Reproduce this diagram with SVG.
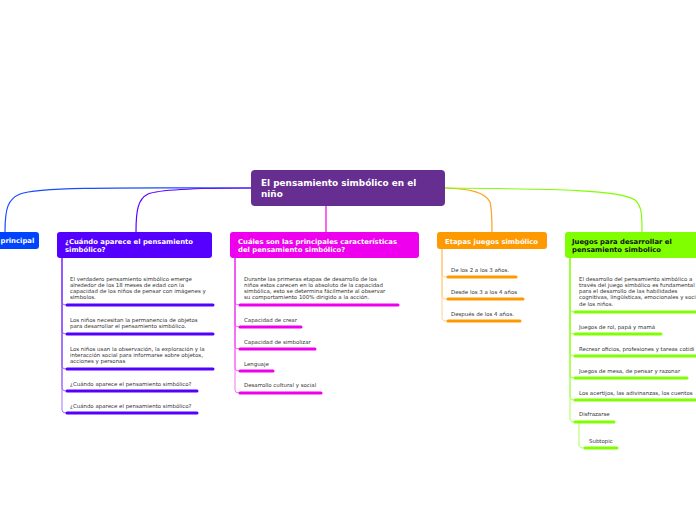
<svg xmlns="http://www.w3.org/2000/svg" width="696" height="520" viewBox="0 0 696 520">
<style>
.nt{font-family:"DejaVu Sans",Verdana,sans-serif;font-weight:bold;font-size:6.85px;fill:#fff}
.ct{font-family:"DejaVu Sans",Verdana,sans-serif;font-weight:bold;font-size:8.9px;fill:#fff}
.st{font-family:"DejaVu Sans",Verdana,sans-serif;font-size:5.45px;fill:#333}
.c{fill:none;stroke-width:1.2}
.u{stroke-width:3;stroke-linecap:round}
.sc{fill:none;stroke-width:0.8}
</style>
<rect width="696" height="520" fill="#fff"/>
<g id="connectors">
<path class="c" stroke="#1a4cff" d="M251 188 C150 188 40 186 20 194 C8 199 5 208 5 232"/>
<path class="c" stroke="#5a00ff" d="M251 188 C200 188 160 189 148 194 C138 199 136 210 136 232"/>
<path class="c" stroke="#ee00ee" d="M326 206 L326 232"/>
<path class="c" stroke="#ffa020" d="M445 188 C470 189 485 192 490 202 C492 210 492 220 492 232"/>
<path class="c" stroke="#80ff00" d="M445 188 C560 189 620 190 635 200 C642 206 642 216 642 232"/>
<g stroke="#5a00ff" opacity="0.7">
<path class="sc" d="M62 258 V302 Q62 305 66 305"/>
<path class="sc" d="M62 258 V331 Q62 334 66 334"/>
<path class="sc" d="M62 258 V366 Q62 369 66 369"/>
<path class="sc" d="M62 258 V388 Q62 391 66 391"/>
<path class="sc" d="M62 258 V410 Q62 413 66 413"/>
</g>
<g stroke="#ee00ee" opacity="0.7">
<path class="sc" d="M235 258 V302 Q235 305 239 305"/>
<path class="sc" d="M235 258 V324 Q235 327 239 327"/>
<path class="sc" d="M235 258 V346 Q235 349 239 349"/>
<path class="sc" d="M235 258 V368 Q235 371 239 371"/>
<path class="sc" d="M235 258 V390 Q235 393 239 393"/>
</g>
<g stroke="#ffb040" opacity="0.7">
<path class="sc" d="M442 249 V274 Q442 277 447 277"/>
<path class="sc" d="M442 249 V296 Q442 299 447 299"/>
<path class="sc" d="M442 249 V318 Q442 321 447 321"/>
</g>
<g stroke="#80ff00" opacity="0.8">
<path class="sc" d="M570 258 V309 Q570 312 574 312"/>
<path class="sc" d="M570 258 V331 Q570 334 574 334"/>
<path class="sc" d="M570 258 V353 Q570 356 574 356"/>
<path class="sc" d="M570 258 V375 Q570 378 574 378"/>
<path class="sc" d="M570 258 V397 Q570 400 574 400"/>
<path class="sc" d="M570 258 V419 Q570 422 574 422"/>
<path class="sc" d="M579 422 V445 Q579 448 584 448"/>
</g>
</g>
<g id="central">
<rect x="251" y="170" width="194" height="36" rx="4" fill="#662e91"/>
<text class="ct" x="261" y="186">El pensamiento simbólico en el</text>
<text class="ct" x="261" y="197">niño</text>
</g>
<g id="n1">
<rect x="-6" y="232" width="45" height="17" rx="3" fill="#0044ff"/>
<text class="nt" x="0.5" y="243">principal</text>
</g>
<g id="n2">
<rect x="57" y="232" width="155" height="26" rx="3" fill="#5500ff"/>
<text class="nt" x="65" y="244">¿Cuándo aparece el pensamiento</text>
<text class="nt" x="65" y="252">simbólico?</text>
</g>
<g id="n2s">
<text class="st"><tspan x="70" y="281">El verdadero pensamiento simbólico emerge</tspan><tspan x="70" y="287">alrededor de los 18 meses de edad con la</tspan><tspan x="70" y="293">capacidad de los niños de pensar con imágenes y</tspan><tspan x="70" y="299">símbolos.</tspan></text>
<line class="u" stroke="#5500ff" x1="67" y1="305" x2="213" y2="305"/>
<text class="st"><tspan x="70" y="322">Los niños necesitan la permanencia de objetos</tspan><tspan x="70" y="328">para desarrollar el pensamiento simbólico.</tspan></text>
<line class="u" stroke="#5500ff" x1="67" y1="334" x2="213" y2="334"/>
<text class="st"><tspan x="70" y="351">Los niños usan la observación, la exploración y la</tspan><tspan x="70" y="357">interacción social para informarse sobre objetos,</tspan><tspan x="70" y="363">acciones y personas</tspan></text>
<line class="u" stroke="#5500ff" x1="67" y1="369" x2="213" y2="369"/>
<text class="st" x="70" y="386">¿Cuándo aparece el pensamiento simbólico?</text>
<line class="u" stroke="#5500ff" x1="67" y1="391" x2="197" y2="391"/>
<text class="st" x="70" y="408">¿Cuándo aparece el pensamiento simbólico?</text>
<line class="u" stroke="#5500ff" x1="67" y1="413" x2="197" y2="413"/>
</g>
<g id="n3">
<rect x="230" y="232" width="189" height="26" rx="3" fill="#ee00ee"/>
<text class="nt" x="238" y="244">Cuáles son las principales características</text>
<text class="nt" x="238" y="252">del pensamiento simbólico?</text>
</g>
<g id="n3s">
<text class="st"><tspan x="244" y="281">Durante las primeras etapas de desarrollo de los</tspan><tspan x="244" y="287">niños estos carecen en lo absoluto de la capacidad</tspan><tspan x="244" y="293">simbólica, esto se determina fácilmente al observar</tspan><tspan x="244" y="299">su comportamiento 100% dirigido a la acción.</tspan></text>
<line class="u" stroke="#ee00ee" x1="240" y1="305" x2="398" y2="305"/>
<text class="st" x="244" y="322">Capacidad de crear</text>
<line class="u" stroke="#ee00ee" x1="240" y1="327" x2="301" y2="327"/>
<text class="st" x="244" y="344">Capacidad de simbolizar</text>
<line class="u" stroke="#ee00ee" x1="240" y1="349" x2="315" y2="349"/>
<text class="st" x="244" y="366">Lenguaje</text>
<line class="u" stroke="#ee00ee" x1="240" y1="371" x2="273" y2="371"/>
<text class="st" x="244" y="387">Desarrollo cultural y social</text>
<line class="u" stroke="#ee00ee" x1="240" y1="393" x2="321" y2="393"/>
</g>
<g id="n4">
<rect x="437" y="232" width="110" height="17" rx="3" fill="#ff9900"/>
<text class="nt" x="445" y="243.5">Etapas juegos simbólico</text>
</g>
<g id="n4s">
<text class="st" x="451" y="272">De los 2 a los 3 años.</text>
<line class="u" stroke="#ff9900" x1="448" y1="277" x2="516" y2="277"/>
<text class="st" x="451" y="294">Desde los 3 a los 4 años</text>
<line class="u" stroke="#ff9900" x1="448" y1="299" x2="523" y2="299"/>
<text class="st" x="451" y="316">Después de los 4 años.</text>
<line class="u" stroke="#ff9900" x1="448" y1="321" x2="520" y2="321"/>
</g>
<g id="n5">
<rect x="565" y="232" width="140" height="26" rx="3" fill="#80ff00"/>
<text class="nt" x="572" y="244" style="fill:#111">Juegos para desarrollar el</text>
<text class="nt" x="572" y="252" style="fill:#111">pensamiento simbolico</text>
</g>
<g id="n5s">
<text class="st"><tspan x="579" y="281">El desarrollo del pensamiento simbólico a</tspan><tspan x="579" y="287">través del juego simbólico es fundamental</tspan><tspan x="579" y="293">para el desarrollo de las habilidades</tspan><tspan x="579" y="299">cognitivas, lingüísticas, emocionales y soci</tspan><tspan x="579" y="306">de los niños.</tspan></text>
<line class="u" stroke="#80ff00" x1="575" y1="312" x2="700" y2="312"/>
<text class="st" x="579" y="329">Juegos de rol, papá y mamá</text>
<line class="u" stroke="#80ff00" x1="575" y1="334" x2="661" y2="334"/>
<text class="st" x="579" y="351">Recrear oficios, profesiones y tareas cotidi</text>
<line class="u" stroke="#80ff00" x1="575" y1="356" x2="700" y2="356"/>
<text class="st" x="579" y="373">Juegos de mesa, de pensar y razonar</text>
<line class="u" stroke="#80ff00" x1="575" y1="378" x2="687" y2="378"/>
<text class="st" x="579" y="395">Los acertijos, las adivinanzas, los cuentos</text>
<line class="u" stroke="#80ff00" x1="575" y1="400" x2="700" y2="400"/>
<text class="st" x="579" y="416">Disfrazarse</text>
<line class="u" stroke="#80ff00" x1="575" y1="422" x2="614" y2="422"/>
</g>
<g id="n5ss">
<text class="st" x="589" y="443">Subtopic</text>
<line class="u" stroke="#80ff00" x1="585" y1="448" x2="617" y2="448"/>
</g>
</svg>
